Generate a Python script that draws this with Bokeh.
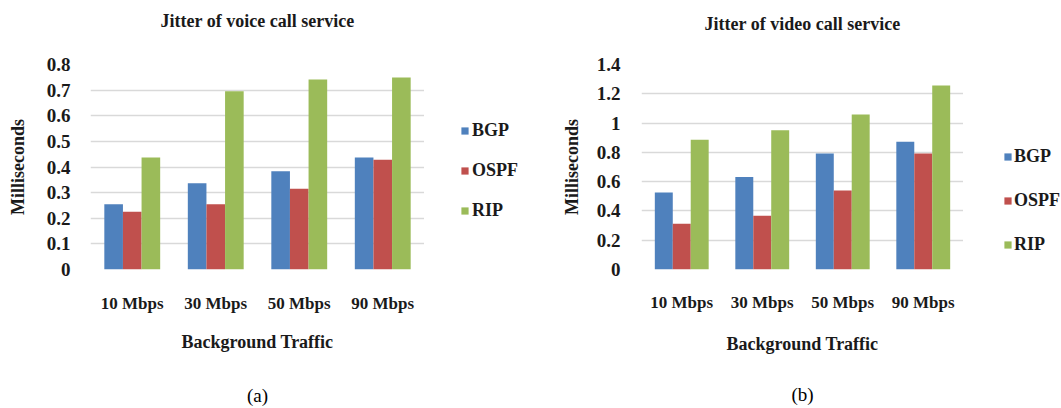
from bokeh.plotting import figure
from bokeh.models import (ColumnDataSource, FactorRange, Range1d, FixedTicker,
                          CustomJSTickFormatter, Legend, LegendItem,
                          CategoricalAxis)
from bokeh.transform import dodge
from bokeh.layouts import row
from bokeh.embed import file_html
from bokeh.resources import INLINE

# ---------------- data ----------------
categories = ["10 Mbps", "30 Mbps", "50 Mbps", "90 Mbps"]
series_names = ["BGP", "OSPF", "RIP"]
series_colors = ["#4F81BD", "#C0504D", "#9BBB59"]

voice_bgp = [0.255, 0.337, 0.383, 0.437]
voice_ospf = [0.225, 0.255, 0.315, 0.428]
voice_rip = [0.437, 0.696, 0.741, 0.749]
voice_ticks = [0, 0.1, 0.2, 0.3, 0.4, 0.5, 0.6, 0.7, 0.8]

video_bgp = [0.526, 0.632, 0.793, 0.872]
video_ospf = [0.313, 0.367, 0.539, 0.793]
video_rip = [0.886, 0.951, 1.058, 1.257]
video_ticks = [0, 0.2, 0.4, 0.6, 0.8, 1.0, 1.2, 1.4]

FONT = "Liberation Serif"
TXT = "#1a1a1a"
BAR_W = 0.223
H = 408
TOP = 64      # shared top border (frames in a row are aligned)
BOTTOM = 138  # shared bottom border


def text_axis(label, size, style, standoff):
    """An axis without ticks or tick labels, used only to carry a text."""
    ax = CategoricalAxis(axis_label=label)
    ax.axis_line_color = None
    ax.major_tick_line_color = None
    ax.major_tick_in = 0
    ax.major_tick_out = 0
    ax.major_label_standoff = 0
    ax.major_label_text_font_size = "0px"
    ax.major_label_text_alpha = 0
    ax.axis_label_standoff = standoff
    ax.axis_label_text_font = FONT
    ax.axis_label_text_font_size = size
    ax.axis_label_text_font_style = style
    ax.axis_label_text_color = TXT if style == "bold" else "#000000"
    return ax


def make_source(series):
    return ColumnDataSource(dict(cat=categories,
                                 s0=series[0], s1=series[1], s2=series[2]))


def add_bars(p, src, visible=True):
    rs = []
    for i, col in enumerate(series_colors):
        rs.append(p.vbar(x=dodge("cat", (i - 1) * BAR_W, range=p.x_range),
                         top="s%d" % i, width=BAR_W, source=src,
                         fill_color=col, line_color=None, visible=visible))
    return rs


def make_chart(title, caption, src, ticks, width, left, st):
    p = figure(x_range=FactorRange(*categories),
               y_range=Range1d(0, ticks[-1]),
               width=width, height=H, title=None,
               output_backend="svg", toolbar_location=None,
               min_border_left=left, min_border_right=0,
               min_border_top=TOP, min_border_bottom=BOTTOM)
    p.background_fill_color = "white"
    p.border_fill_color = "white"
    p.outline_line_color = None
    add_bars(p, src)

    # grid
    p.xgrid.grid_line_color = None
    p.ygrid.grid_line_color = "#d9d9d9"
    p.ygrid.grid_line_width = 1.5

    # y axis
    ya = p.yaxis[0]
    ya.ticker = FixedTicker(ticks=ticks)
    ya.formatter = CustomJSTickFormatter(code="return Number(tick.toFixed(1)).toString();")
    ya.axis_line_color = None
    ya.major_tick_line_color = None
    ya.minor_tick_line_color = None
    ya.major_tick_in = 0
    ya.major_tick_out = 0
    ya.major_label_standoff = st["ytick"]
    ya.major_label_text_font = FONT
    ya.major_label_text_font_size = "19px"
    ya.major_label_text_font_style = "bold"
    ya.major_label_text_color = TXT
    ya.axis_label = "Milliseconds"
    ya.axis_label_text_font = FONT
    ya.axis_label_text_font_size = "18px"
    ya.axis_label_text_font_style = "bold"
    ya.axis_label_text_color = TXT
    ya.axis_label_standoff = st["ylabel"]

    # x axis
    xa = p.xaxis[0]
    xa.axis_line_color = None
    xa.major_tick_line_color = None
    xa.major_tick_in = 0
    xa.major_tick_out = 0
    xa.major_label_standoff = st["xtick"]
    xa.major_label_text_font = FONT
    xa.major_label_text_font_size = "17px"
    xa.major_label_text_font_style = "bold"
    xa.major_label_text_color = TXT
    xa.axis_label = "Background Traffic"
    xa.axis_label_text_font = FONT
    xa.axis_label_text_font_size = "18px"
    xa.axis_label_text_font_style = "bold"
    xa.axis_label_text_color = TXT
    xa.axis_label_standoff = st["xlabel"]

    # chart title (above) and caption (below)
    p.add_layout(text_axis(title, "18px", "bold", st["title"]), "above")
    p.add_layout(text_axis(caption, "19px", "normal", st["caption"]), "below")
    return p


def make_legend(src, width, loc, spacing, standoff):
    # a narrow companion figure that only shows the legend; its bar
    # renderers are hidden, only their legend entries are drawn
    q = figure(width=width, height=H, x_range=FactorRange(*categories),
               y_range=Range1d(0, 1), output_backend="svg", title=None,
               toolbar_location=None, x_axis_type=None, y_axis_type=None,
               min_border_left=0, min_border_right=0,
               min_border_top=TOP, min_border_bottom=BOTTOM)
    q.outline_line_color = None
    q.background_fill_color = "white"
    q.border_fill_color = "white"
    rs = add_bars(q, src, visible=False)
    legend = Legend(items=[LegendItem(label=n, renderers=[r])
                           for n, r in zip(series_names, rs)],
                    location=loc, orientation="vertical",
                    padding=0, margin=0, spacing=spacing,
                    glyph_width=9, glyph_height=9, label_height=26,
                    label_standoff=standoff, label_text_font=FONT,
                    label_text_font_size="18px", label_text_font_style="bold",
                    label_text_color=TXT, border_line_color=None,
                    background_fill_alpha=0, inactive_fill_alpha=0)
    q.add_layout(legend)
    return q


voice_src = make_source([voice_bgp, voice_ospf, voice_rip])
video_src = make_source([video_bgp, video_ospf, video_rip])

p1 = make_chart("Jitter of voice call service", "(a)", voice_src, voice_ticks,
                424, 90,
                dict(title=34, ytick=20, ylabel=16, xtick=24, xlabel=16,
                     caption=30))
l1 = make_legend(voice_src, 106, (36, 46), 14, 3)

p2 = make_chart("Jitter of video call service", "(b)", video_src, video_ticks,
                433, 111,
                dict(title=31, ytick=21, ylabel=12, xtick=23, xlabel=19,
                     caption=27))
l2 = make_legend(video_src, 98, (40, 12), 18, 2)

layout = row(p1, l1, p2, l2)
open("out.html", "w").write(file_html(layout, INLINE))
